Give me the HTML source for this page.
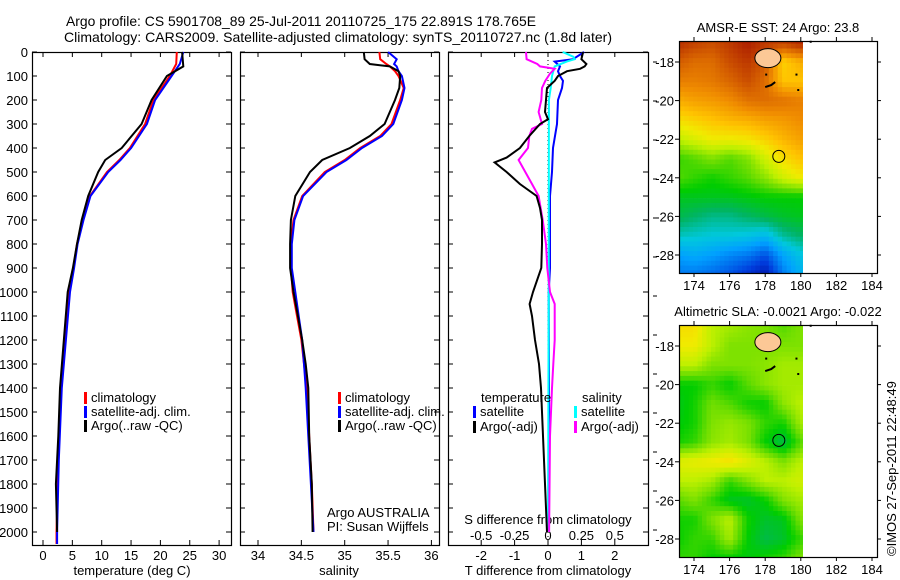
<!DOCTYPE html>
<html><head><meta charset="utf-8"><style>
html,body{margin:0;padding:0;background:#fff}
svg{display:block;font-family:"Liberation Sans",sans-serif}
</style></head><body>
<svg id="fig" xmlns="http://www.w3.org/2000/svg" width="900" height="580" viewBox="0 0 900 580">
<rect width="900" height="580" fill="#fff"/>
<text x="66" y="26" font-size="14" textLength="470" lengthAdjust="spacingAndGlyphs">Argo profile: CS 5901708_89 25-Jul-2011 20110725_175 22.891S 178.765E</text>
<text x="64" y="42" font-size="14" textLength="548" lengthAdjust="spacingAndGlyphs">Climatology: CARS2009. Satellite-adjusted climatology: synTS_20110727.nc (1.8d later)</text>
<g id="g"></g>
<text transform="translate(896,556) rotate(-90)" font-size="13">©IMOS 27-Sep-2011 22:48:49</text>
</svg>
<script>
// ---- profile data ----
const tDepth   = [0,50,100,200,300,400,450,500,600,700,800,900,1000,1400,1700,2000,2050];
const tClim    = [22.8,22.7,21.6,18.8,17.4,14.8,13.0,10.9,8.0,6.8,5.8,5.2,4.5,3.1,2.6,2.3,2.3];
const tSat     = [23.9,23.3,21.9,19.1,17.7,15.0,13.2,11.1,8.1,6.9,5.9,5.3,4.6,3.2,2.7,2.4,2.4];
const aDepth   = [0,60,100,200,300,400,450,500,600,700,800,900,1000,1400,1600,1800,2000];
const tArgo    = [23.7,23.9,21.1,18.5,16.8,13.4,10.6,9.4,7.7,6.6,5.8,5.1,4.2,2.9,2.6,2.2,2.4];
const sDepth   = [0,30,50,60,80,100,150,200,300,350,400,450,500,600,700,800,900,1000,1100,1200,1300,1400,1600,1800,2000];
const sArgo    = [35.22,35.23,35.29,35.52,35.62,35.64,35.63,35.58,35.46,35.29,35.06,34.74,34.60,34.43,34.38,34.37,34.37,34.41,34.46,34.51,34.55,34.58,34.59,34.62,34.63];
const sClim    = [35.40,35.41,35.48,35.52,35.58,35.62,35.68,35.64,35.54,35.41,35.18,35.00,34.77,34.51,34.41,34.38,34.38,34.40,34.45,34.50,34.53,34.56,34.59,34.62,34.64];
const sSat     = [35.50,35.60,35.57,35.60,35.62,35.66,35.69,35.66,35.56,35.43,35.20,35.02,34.79,34.52,34.42,34.39,34.39,34.43,34.47,34.51,34.53,34.55,34.58,34.61,34.64];
const dtDepth  = [0,30,50,60,70,80,100,120,150,200,250,280,300,350,400,440,460,500,550,600,650,700,800,900,1000,1050,1100,1200,1300,1400,1600,1800,2000];
const dtArgo   = [1.05,1.0,1.15,1.1,0.96,0.57,0.3,0.2,-0.03,-0.06,-0.09,0,-0.24,-0.56,-0.84,-1.24,-1.6,-1.24,-0.84,-0.34,-0.24,-0.18,-0.18,-0.2,-0.45,-0.55,-0.48,-0.39,-0.27,-0.21,-0.15,-0.09,-0.03];
const dtsDepth = [0,30,40,60,80,100,120,150,200,300,400,500,600,900,1000,1400,2000];
const dtSat    = [1.08,0.75,0.2,0.36,0.3,0.36,0.45,0.42,0.3,0.27,0.15,0.12,0.06,0.06,0.02,0.03,0.03];
const dsDepth  = [0,30,50,60,70,90,120,150,200,250,300,320,350,400,450,500,550,600,700,800,900,1000,1050,1200,1300,1400,1600,2000];
const dsArgo   = [-0.165,-0.16,-0.08,-0.06,0.05,0.015,-0.02,-0.045,-0.05,-0.07,-0.045,-0.12,-0.14,-0.15,-0.22,-0.17,-0.12,-0.07,-0.04,-0.015,-0.005,0.015,0.05,0.05,0.04,0.03,0.015,0.008];
const dssDepth = [0,20,30,40,60,80,100,150,200,1000,2000];
const dsSat    = [0.11,0.19,0.2,0.14,0.05,0.04,0.03,0.02,0.007,0.005,0.0];
const depthTicks = [0,100,200,300,400,500,600,700,800,900,1000,1100,1200,1300,1400,1500,1600,1700,1800,1900,2000];
const tempTicks = [0,5,10,15,20,25,30];
const salTicks = ['34','34.5','35','35.5','36'];
const tdTicks = [-2,-1,0,1,2];
const sdTicks = ['-0.5','-0.25','0','0.25','0.5'];
const lonTicks = [174,176,178,180,182,184];
const latTicks = [18,20,22,24,26,28];
// map fields (colormap position 0..1) rows lat 17..29, cols lon 173..180
const sstGrid = [
[.95,.92,.90,.93,.97,.93,.92,.96],[.88,.85,.85,.90,.93,.88,.70,.75],[.82,.82,.83,.86,.90,.85,.72,.72],
[.75,.77,.78,.80,.84,.85,.84,.82],[.68,.70,.72,.74,.75,.77,.78,.80],[.60,.63,.66,.66,.67,.70,.74,.77],
[.50,.52,.55,.52,.55,.62,.68,.72],[.52,.50,.48,.50,.52,.56,.62,.66],[.45,.45,.45,.45,.46,.47,.47,.47],
[.42,.40,.38,.38,.40,.42,.44,.45],[.35,.34,.33,.33,.32,.30,.37,.40],[.25,.27,.25,.22,.20,.15,.26,.32],
[.20,.20,.18,.15,.10,.05,.20,.28]];
const slaGrid = [
[.68,.68,.60,.58,.56,.55,.52,.55],[.66,.66,.60,.55,.55,.55,.55,.55],[.60,.60,.55,.55,.55,.56,.58,.58],
[.47,.47,.50,.47,.52,.56,.58,.58],[.45,.48,.54,.52,.48,.47,.56,.60],[.46,.48,.55,.57,.55,.50,.48,.58],
[.48,.50,.56,.58,.55,.47,.42,.52],[.64,.65,.66,.68,.64,.60,.55,.60],[.60,.60,.58,.50,.55,.60,.60,.62],
[.52,.55,.50,.45,.44,.47,.55,.58],[.48,.48,.55,.60,.48,.44,.45,.55],[.47,.50,.50,.58,.47,.42,.44,.50],
[.50,.50,.47,.47,.46,.48,.50,.55]];
const argoLon = 178.765, argoLat = 22.891;

const NS='http://www.w3.org/2000/svg';
const G=document.getElementById('g');
function el(tag,attrs,parent){const e=document.createElementNS(NS,tag);for(const k in attrs)e.setAttribute(k,attrs[k]);(parent||G).appendChild(e);return e;}
function txt(x,y,s,size,anchor,parent){const t=el('text',{x:x,y:y,'font-size':size,'text-anchor':anchor||'start'},parent);t.textContent=s;return t;}
const yD = d => 52 + d*0.24;
const PT=52, PB=545;
const xT = v => 43 + v*5.87;
const xS = v => 258 + (v-34)*86.7;
const xDT = v => 548 + v*33.4;
const xDS = v => 548 + v*133.6;

function line(depths, vals, xf, color, name){
  const pts = depths.map((d,i)=>xf(vals[i]).toFixed(1)+','+yD(d).toFixed(1)).join(' ');
  const p = el('polyline',{points:pts,fill:'none',stroke:color,'stroke-width':2});
  
  
}
function panel(x0,x1,name){
  const r=el('rect',{x:x0+.5,y:PT+.5,width:x1-x0,height:PB-PT,fill:'none',stroke:'#000','stroke-width':1.2});
  
  
  depthTicks.forEach(d=>{
    el('line',{x1:x0,x2:x0+5,y1:yD(d),y2:yD(d),stroke:'#000'});
    el('line',{x1:x1-5,x2:x1,y1:yD(d),y2:yD(d),stroke:'#000'});
  });
}
function xticks(vals,xf,labels,ly){
  vals.forEach((v,i)=>{
    const x=xf(v);
    el('line',{x1:x,x2:x,y1:PB,y2:PB-5,stroke:'#000'});
    el('line',{x1:x,x2:x,y1:PT,y2:PT+5,stroke:'#000'});
    const t=txt(x,ly,labels[i],13,'middle');
    
    
  });
}
// depth labels
depthTicks.forEach(d=>{
  const t=txt(28,yD(d)+5,String(d),13,'end');
  
  
});
// panel 1 temperature
panel(32,231,'temperature-panel');
xticks(tempTicks,xT,tempTicks.map(String),560);
let lab=txt(132,575,'temperature (deg C)',13,'middle');


line(tDepth,tClim,xT,'#f00','temp-climatology-line');
line(tDepth,tSat,xT,'#00f','temp-satellite-line');
line(aDepth,tArgo,xT,'#000','temp-argo-line');
// panel 2 salinity
panel(240,439,'salinity-panel');
xticks(salTicks.map(Number),xS,salTicks,560);
lab=txt(339,575,'salinity',13,'middle');


line(sDepth,sClim,xS,'#f00','sal-climatology-line');
line(sDepth,sSat,xS,'#00f','sal-satellite-line');
line(sDepth,sArgo,xS,'#000','sal-argo-line');
// legends
function legend(x,y,color,label){
  const g=el('g',{});
  
  
  el('rect',{x:x,y:y-10,width:3,height:12,fill:color},g);
  txt(x+7,y,label,13,'start',g);
}
[[84,'#f00','climatology'],[84,'#00f','satellite-adj. clim.'],[84,'#000','Argo(..raw -QC)']].forEach((a,i)=>legend(a[0],402+i*14,a[1],a[2]));
[[338,'#f00','climatology'],[338,'#00f','satellite-adj. clim.'],[338,'#000','Argo(..raw -QC)']].forEach((a,i)=>legend(a[0],402+i*14,a[1],a[2]));
lab=txt(327,517,'Argo AUSTRALIA',13);


lab=txt(327,531,'PI: Susan Wijffels',13);


// panel 3 differences
panel(448,648,'difference-panel');
el('line',{x1:548,x2:548,y1:PT,y2:PB,stroke:'#000','stroke-dasharray':'1,3'});
xticks(tdTicks,xDT,tdTicks.map(String),560);
sdTicks.forEach(s=>{const t=txt(xDS(Number(s)),540,s,13,'middle');
  
  });
lab=txt(548,524,'S difference from climatology',13,'middle');


lab=txt(548,575,'T difference from climatology',13,'middle');


line(dtsDepth,dtSat,xDT,'#00f','tdiff-satellite-line');
line(dssDepth,dsSat,xDS,'#0ff','sdiff-satellite-line');
line(dsDepth,dsArgo,xDS,'#f0f','sdiff-argo-line');
line(dtDepth,dtArgo,xDT,'#000','tdiff-argo-line');
lab=txt(481,402,'temperature',13);


lab=txt(582,402,'salinity',13);


legend(473,416,'#00f','satellite');legend(473,431,'#000','Argo(-adj)');
legend(574,416,'#0ff','satellite');legend(574,431,'#f0f','Argo(-adj)');
for(let y=62;y<=545;y+=39){el('line',{x1:653,x2:657,y1:y,y2:y,stroke:'#000'});}

// ---- maps ----
const stops=[[0,[0,0,140]],[.12,[0,60,220]],[.25,[0,160,255]],[.33,[0,200,220]],[.4,[0,180,100]],[.47,[0,205,0]],[.53,[100,220,0]],[.6,[190,240,0]],[.66,[240,235,0]],[.72,[255,195,0]],[.8,[240,140,0]],[.88,[210,90,0]],[1,[160,10,0]]];
function cmap(v){v=Math.max(0,Math.min(1,v));for(let i=1;i<stops.length;i++){if(v<=stops[i][0]){const a=stops[i-1],b=stops[i],f=(v-a[0])/(b[0]-a[0]);return 'rgb('+a[1].map((c,k)=>Math.round(c+(b[1][k]-c)*f)).join(',')+')';}}return 'rgb(160,10,0)';}
function sample(grid,lon,lat){const c=Math.max(0,Math.min(6.999,lon-173)),r=Math.max(0,Math.min(11.999,lat-17));const i=Math.floor(r),j=Math.floor(c),fr=r-i,fc=c-j;
  return grid[i][j]*(1-fr)*(1-fc)+grid[i][j+1]*(1-fr)*fc+grid[i+1][j]*fr*(1-fc)+grid[i+1][j+1]*fr*fc;}
function map(top,lat18y,grid,title,name){
  const xL=lon=>694+(lon-174)*17.8, yL=lat=>lat18y+(lat-18)*19.3;
  const bottom=top+232;
  const g=el('g',{});
  
  
  const step=0.25;
  for(let lat=16.8;lat<29.1;lat+=step){for(let lon=173.2;lon<180.1;lon+=step){
    const y0=Math.max(top,yL(lat)),y1=Math.min(bottom,yL(lat+step)),x0=xL(lon),x1=Math.min(xL(180.1),xL(lon+step));
    if(y1<=y0)continue;
    el('rect',{x:x0.toFixed(1),y:y0.toFixed(1),width:(x1-x0+.4).toFixed(1),height:(y1-y0+.4).toFixed(1),fill:cmap(sample(grid,lon+step/2,lat+step/2))},g);
  }}
  // island
  el('ellipse',{cx:xL(178.15),cy:yL(17.8),rx:13,ry:9.5,fill:'#fcc896',stroke:'#000','stroke-width':1},g);
  el('path',{d:`M${xL(178.0)} ${yL(19.3)} l6 -2 l4 -3`,stroke:'#000','stroke-width':2,fill:'none'},g);
  [[179.7,18.6],[179.8,19.4],[178.0,18.6],[180.5,16.9]].forEach(p=>el('rect',{x:xL(p[0]),y:yL(p[1]),width:2,height:2,fill:'#000'},g));
  const c=el('circle',{cx:xL(argoLon),cy:yL(argoLat),r:6,fill:'none',stroke:'#000'},g);
  
  
  el('rect',{x:679.5,y:top+.5,width:198,height:232,fill:'none',stroke:'#000','stroke-width':1.2},g);
  latTicks.forEach(l=>{el('line',{x1:675,x2:679,y1:yL(l),y2:yL(l),stroke:'#000'},g);el('line',{x1:877,x2:881,y1:yL(l),y2:yL(l),stroke:'#000'},g);
    const t=txt(674,yL(l)+5,'-'+l,13,'end',g);
    
    });
  lonTicks.forEach(l=>{el('line',{x1:xL(l),x2:xL(l),y1:bottom,y2:bottom+4,stroke:'#000'},g);el('line',{x1:xL(l),x2:xL(l),y1:top-4,y2:top,stroke:'#000'},g);
    const t=txt(xL(l),bottom+17,String(l),13,'middle',g);
    
    });
  const t=txt(778,top-9,title,13,'middle',g);
  
  
}
map(41,62,sstGrid,'AMSR-E SST: 24 Argo: 23.8','sst-map');
map(325,346,slaGrid,'Altimetric SLA: -0.0021  Argo: -0.022','sla-map');
</script>
</body></html>
